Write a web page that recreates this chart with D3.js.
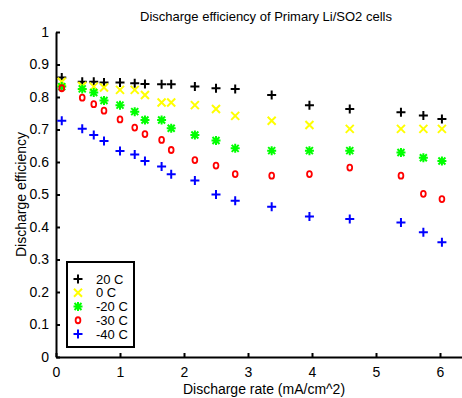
<!DOCTYPE html>
<html>
<head>
<meta charset="utf-8">
<script src="https://cdn.jsdelivr.net/npm/d3@7"></script>
<style>
  body { margin: 0; background: #fff; }
  svg { display: block; font-family: "Liberation Sans", Arial, sans-serif; }
</style>
</head>
<body>
<svg id="chart" width="462" height="398"></svg>
<script>
// discharge rate (mA/cm^2), shared by all series
const rates = [0.09, 0.41, 0.59, 0.75, 1.0, 1.23, 1.39, 1.65, 1.8, 2.17, 2.5, 2.8, 3.37, 3.96, 4.59, 5.39, 5.74, 6.03];

const eff20 = [0.86, 0.847, 0.847, 0.845, 0.845, 0.842, 0.84, 0.839, 0.839, 0.832, 0.827, 0.825, 0.806, 0.775, 0.763, 0.753, 0.743, 0.732];
const eff0 = [0.847, 0.834, 0.832, 0.829, 0.822, 0.822, 0.806, 0.783, 0.783, 0.775, 0.763, 0.742, 0.727, 0.714, 0.702, 0.702, 0.702, 0.702];
const effM20 = [0.832, 0.825, 0.814, 0.789, 0.775, 0.755, 0.729, 0.729, 0.704, 0.683, 0.666, 0.642, 0.635, 0.635, 0.635, 0.629, 0.613, 0.603];
const effM30 = [0.827, 0.798, 0.778, 0.758, 0.731, 0.706, 0.686, 0.668, 0.637, 0.606, 0.589, 0.563, 0.558, 0.563, 0.583, 0.558, 0.502, 0.486];
const effM40 = [0.727, 0.702, 0.683, 0.665, 0.634, 0.623, 0.603, 0.586, 0.562, 0.543, 0.5, 0.481, 0.462, 0.432, 0.425, 0.414, 0.384, 0.353];

const seriesNames = ["20 C", "0 C", "-20 C", "-30 C", "-40 C"];
const seriesColors = ["#000000", "#ffff00", "#00ff00", "#ff0000", "#0000ff"];
const seriesMarkers = ["plus", "cross", "star", "circle", "plus"];
const seriesValues = [eff20, eff0, effM20, effM30, effM40];

const xTicks = [0, 1, 2, 3, 4, 5, 6];
const yTicks = [0, 0.1, 0.2, 0.3, 0.4, 0.5, 0.6, 0.7, 0.8, 0.9, 1];

const width = 462, height = 398;
const margin = { top: 32, right: -10, bottom: 41, left: 56 };

const svg = d3.select("#chart");

const x = d3.scaleLinear().domain([0, 6.5]).range([margin.left, width - margin.right]);
const y = d3.scaleLinear().domain([0, 1]).range([height - margin.bottom, margin.top]);

// marker shapes (matlab-like)
function markerPath(type) {
  const p = d3.path();
  if (type === "plus") {
    p.moveTo(-4.5, 0); p.lineTo(4.5, 0);
    p.moveTo(0, -4.5); p.lineTo(0, 4.5);
  } else if (type === "cross") {
    p.moveTo(-4, -4); p.lineTo(4, 4);
    p.moveTo(-4, 4); p.lineTo(4, -4);
  } else if (type === "star") {
    p.moveTo(-4.5, 0); p.lineTo(4.5, 0);
    p.moveTo(0, -4.5); p.lineTo(0, 4.5);
    p.moveTo(-3.5, -3.5); p.lineTo(3.5, 3.5);
    p.moveTo(-3.5, 3.5); p.lineTo(3.5, -3.5);
  }
  return p.toString();
}

function drawMarker(g, type, color) {
  if (type === "circle") {
    g.append("ellipse").attr("rx", 2.4).attr("ry", 3)
      .attr("fill", "none").attr("stroke", color).attr("stroke-width", 1.8);
  } else {
    g.append("path").attr("d", markerPath(type))
      .attr("fill", "none").attr("stroke", color).attr("stroke-width", 2);
  }
}

// axes
const xAxis = svg.append("g")
  .attr("transform", `translate(0,${y(0)})`)
  .call(d3.axisBottom(x).tickValues(xTicks).tickFormat(d3.format("d")).tickSizeInner(-4).tickSizeOuter(0).tickPadding(10));

const yAxis = svg.append("g")
  .attr("transform", `translate(${x(0)},0)`)
  .call(d3.axisLeft(y).tickValues(yTicks).tickFormat(d => d === 0 || d === 1 ? String(d) : d3.format(".1f")(d)).tickSizeInner(-4).tickSizeOuter(0).tickPadding(7));

[xAxis, yAxis].forEach(g => {
  g.select(".domain").attr("stroke", "#000").attr("stroke-width", 2);
  g.selectAll(".tick line").attr("stroke", "#000").attr("stroke-width", 2);
  g.selectAll(".tick text").attr("fill", "#000").style("font-size", "14px");
});

// series
seriesValues.forEach((vals, i) => {
  svg.append("g").selectAll("g")
    .data(rates.map((r, j) => [r, vals[j]]))
    .join("g")
    .attr("transform", d => `translate(${x(d[0])},${y(d[1])})`)
    .each(function () { drawMarker(d3.select(this), seriesMarkers[i], seriesColors[i]); });
});

// title and labels
svg.append("text")
  .attr("x", 266).attr("y", 21)
  .attr("text-anchor", "middle")
  .style("font-size", "13px")
  .text("Discharge efficiency of Primary Li/SO2 cells");

svg.append("text")
  .attr("x", 264).attr("y", 394)
  .attr("text-anchor", "middle")
  .style("font-size", "14px")
  .text("Discharge rate (mA/cm^2)");

svg.append("text")
  .attr("transform", `translate(26,${(y(0) + y(1)) / 2}) rotate(-90)`)
  .attr("text-anchor", "middle")
  .style("font-size", "14px")
  .text("Discharge efficiency");

// legend
const legend = svg.append("g").attr("transform", "translate(67,262)");
legend.append("rect")
  .attr("width", 67).attr("height", 85)
  .attr("fill", "#fff").attr("stroke", "#000").attr("stroke-width", 2);

seriesNames.forEach((name, i) => {
  const row = legend.append("g").attr("transform", `translate(0,${17 + i * 13.75})`);
  const m = row.append("g").attr("transform", "translate(11,0)");
  drawMarker(m, seriesMarkers[i], seriesColors[i]);
  row.append("text")
    .attr("x", 29).attr("y", 4.7)
    .style("font-size", "13px")
    .text(name);
});
</script>
</body>
</html>
